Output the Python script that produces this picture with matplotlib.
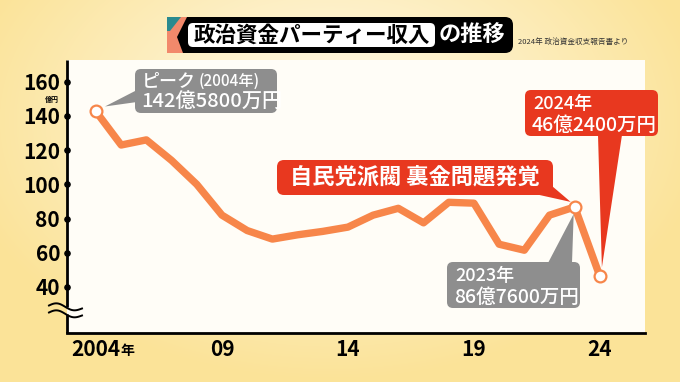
import numpy as np
import matplotlib.pyplot as plt
from matplotlib.patches import FancyBboxPatch, Polygon
from matplotlib.transforms import Affine2D

plt.rcParams['font.family'] = ['Noto Sans CJK JP', 'DejaVu Sans']

#%% データ（億円）
years = list(range(2004, 2025))
income = [142.6, 123, 126, 114, 100, 82, 73, 68, 70.5, 72.5, 75,
          82, 86, 77.5, 89.5, 89, 65, 61.5, 82, 86.8, 46.2]
ytick_vals = [40, 60, 80, 100, 120, 140, 160]
xtick_years = [2004, 2009, 2014, 2019, 2024]
xtick_labels = ["2004", "09", "14", "19", "24"]
marked_years = [2004, 2023, 2024]

ORANGE = "#F7864A"
RED = "#E8381F"
GRAY = "#8E8E8E"
WT = "medium"

#%% figure
W, H = 680, 382
fig = plt.figure(figsize=(W / 100, H / 100), dpi=100)
# pixel coords measured from the top-left corner
px = Affine2D().scale(1 / 100, -1 / 100).translate(0, H / 100) + fig.dpi_scale_trans

# background gradient
bg = fig.add_axes([0, 0, 1, 1], zorder=0)
yy, xx = np.mgrid[0:H, 0:W]
d = np.clip(np.sqrt(((xx - 330) / 380) ** 2 + ((yy - 120) / 260) ** 2), 0, 1)[..., None]
light = np.array([255, 250, 236]) / 255
dark = np.array([251, 227, 152]) / 255
bg.imshow(light * (1 - d) + dark * d, extent=(0, W, H, 0), aspect="auto")
bg.axis("off")

ax = fig.add_axes([67 / W, 1 - 333 / H, 578 / W, 273 / H], zorder=1)
ax.set_facecolor("#FFFDF7")
ax.plot(years, income, color=ORANGE, lw=5.3, solid_joinstyle="round", zorder=3)
mk = [income[years.index(y)] for y in marked_years]
ax.plot(marked_years, mk, "o", ms=8.5, mfc="white", mec=ORANGE, mew=1.6, zorder=8)

ax.set_xlim(2002.85, 2025.79)
ax.set_ylim(13.1, 172.7)
for s in ["top", "right", "left"]:
    ax.spines[s].set_visible(False)
ax.spines["bottom"].set_linewidth(2)

ax.set_yticks(ytick_vals)
ax.set_yticklabels([str(v) for v in ytick_vals], fontsize=15, fontweight="semibold")
ax.set_xticks(xtick_years)
ax.set_xticklabels(xtick_labels, fontsize=15, fontweight="semibold")
ax.tick_params(length=0)
ax.tick_params(axis="y", pad=5)
ax.tick_params(axis="x", pad=4)

# left axis with break
yt = ax.get_yaxis_transform()
ax.plot([0, 0], [28.5, 172.7], color="black", lw=2, transform=yt, clip_on=False, solid_capstyle="butt")
ax.plot([0, 0], [13.1, 24.3], color="black", lw=2, transform=yt, clip_on=False, solid_capstyle="butt")
ax.scatter([0] * len(ytick_vals), ytick_vals, s=14, color="black", transform=yt, clip_on=False, zorder=5)
t = np.linspace(0, 1, 40)
for y0 in [307, 314]:
    ax.plot(49 + 33 * t, y0 - 3 * np.sin(2 * np.pi * t) * (1 - 0.2 * t) + 3 * t - 1.5,
            color="black", lw=1.4, transform=px, clip_on=False)

ax.text(59, 99, "億円", fontsize=5, fontweight="bold", ha="right", va="center", transform=px)
ax.text(120, 351, "年", fontsize=10, fontweight="semibold", ha="left", va="center", transform=px)


def to_px(x, y):
    return px.inverted().transform(ax.transData.transform((x, y)))


def box(x, y, w, h, color, r=6):
    ax.add_patch(FancyBboxPatch((x, y), w, h, boxstyle=f"round,pad=0,rounding_size={r}",
                                fc=color, ec="none", transform=px, clip_on=False, zorder=6))


def pointer(p1, p2, tip, color):
    ax.add_patch(Polygon([p1, p2, tip], closed=True, fc=color, ec="none",
                         transform=px, clip_on=False, zorder=6))


def label(x, y, s, size):
    ax.text(x, y, s, fontsize=size, fontweight=WT, color="white", ha="left", va="center",
            transform=px, zorder=7)


# ピーク
px04 = to_px(2004, income[0])
box(135, 69, 142, 44, GRAY)
pointer((137, 90), (137, 102), (px04[0] + 9, px04[1] - 5), GRAY)
label(142, 81, "ピーク", 13)
label(199, 81, "(2004年)", 11)
label(141, 102, "142億5800万円", 14.5)

# 裏金問題
px23 = to_px(2023, income[years.index(2023)])
box(277, 160, 276, 35, RED, 7)
pointer((535, 194), (552, 186), (px23[0] - 4, px23[1] - 5), RED)
ax.text(415, 177.5, "自民党派閥 裏金問題発覚", fontsize=16, fontweight="bold", color="white",
        ha="center", va="center", transform=px, zorder=7)

# 2024
px24 = to_px(2024, income[-1])
box(525, 90, 133, 46, RED)
pointer((598, 135), (622, 135), (px24[0] + 2, px24[1] - 9), RED)
label(533, 104, "2024年", 13)
label(532, 125, "46億2400万円", 14)

# 2023
box(447, 262, 133, 46, GRAY)
pointer((548, 263), (572, 263), (px23[0] - 1, px23[1] + 7), GRAY)
label(455, 276, "2023年", 13)
label(454, 297, "86億7600万円", 14)

# title
tb = FancyBboxPatch((167, 17), 346, 36, boxstyle="round,pad=0,rounding_size=8",
                    fc="black", ec="none", transform=px, clip_on=False, zorder=6)
ax.add_patch(tb)
for verts, c in [([(167, 17), (187, 17), (177, 37), (183, 53), (167, 53)], "#F2896B"),
                 ([(167, 17), (181, 17), (170, 31), (167, 31)], "#2A8A8F")]:
    pg = Polygon(verts, closed=True, fc=c, ec="none", transform=px, clip_on=False, zorder=6.5)
    ax.add_patch(pg)
    pg.set_clip_path(tb)
ax.add_patch(FancyBboxPatch((188, 23), 247, 24, boxstyle="round,pad=0,rounding_size=5",
                            fc="white", ec="none", transform=px, clip_on=False, zorder=7))
ax.text(311.5, 35, "政治資金パーティー収入", fontsize=15.5, fontweight="bold", color="black",
        ha="center", va="center", transform=px, zorder=8)
ax.text(472, 35, "の推移", fontsize=16, fontweight="bold", color="white",
        ha="center", va="center", transform=px, zorder=8)
ax.text(518, 42, "2024年 政治資金収支報告書より", fontsize=5.5, color="#333333",
        ha="left", va="center", transform=px)

fig.savefig("out.png", dpi=100)
